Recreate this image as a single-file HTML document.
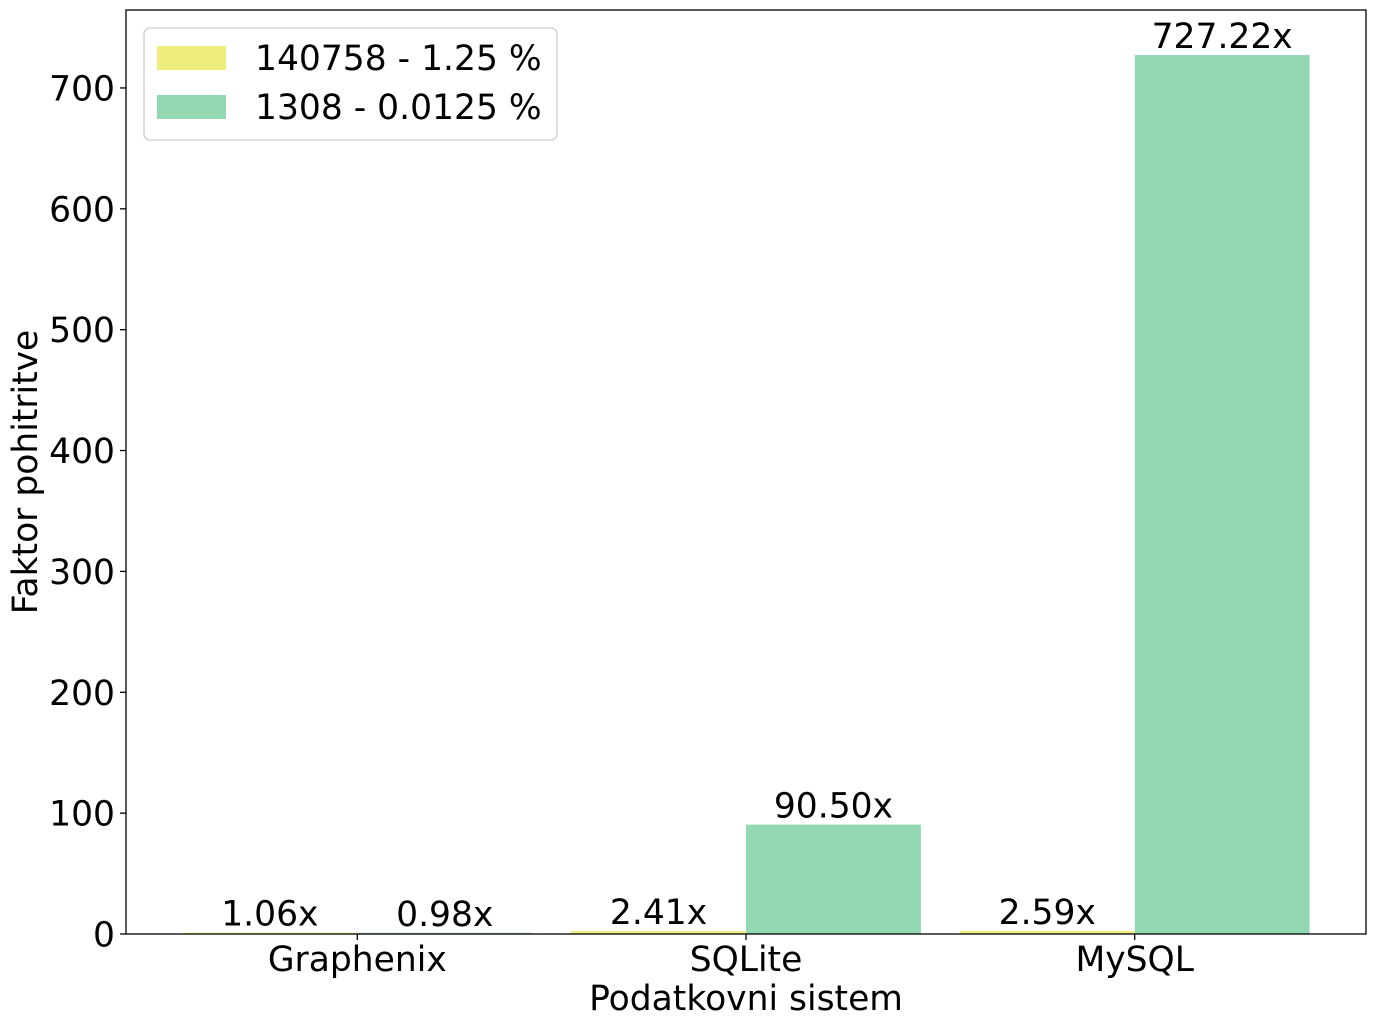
<!DOCTYPE html>
<html><head><meta charset="utf-8"><style>
body{margin:0;background:#fff}
svg{display:block;font-family:"DejaVu Sans","Liberation Sans",sans-serif}
</style></head><body>
<svg id="chart" width="1375" height="1027" viewBox="0 0 1375 1027" xmlns="http://www.w3.org/2000/svg">
<rect x="0" y="0" width="1375" height="1027" fill="#fff"/>
<g id="bars"></g>
<g id="axes"></g>
</svg>
<script>
const categories = ["Graphenix", "SQLite", "MySQL"];
const seriesNames = ["140758 - 1.25 %", "1308 - 0.0125 %"];
const series1 = [1.06, 2.41, 2.59];
const series2 = [0.98, 90.50, 727.22];
const labels1 = ["1.06x", "2.41x", "2.59x"];
const labels2 = ["0.98x", "90.50x", "727.22x"];
const yTicks = [0, 100, 200, 300, 400, 500, 600, 700];

const NS = "http://www.w3.org/2000/svg";
const L = 126, R = 1366, T = 10, B = 934;
const FS = 34.5;
const barW = 0.45;
const xmin = -barW - 0.05 * (categories.length - 1 + 2 * barW);
const xmax = categories.length - 1 + barW + 0.05 * (categories.length - 1 + 2 * barW);
const ymax = 764.5;
function xs(v){ return L + (v - xmin) / (xmax - xmin) * (R - L); }
function ys(v){ return B - v / ymax * (B - T); }
function mk(tag, attrs, parent, text){
  const e = document.createElementNS(NS, tag);
  for (const k in attrs) e.setAttribute(k, attrs[k]);
  if (text !== undefined) e.textContent = text;
  parent.appendChild(e);
  return e;
}
const bars = document.getElementById("bars");
const axes = document.getElementById("axes");
const colors = ["#eeed7e", "#94d7b3"];
[series1, series2].forEach((s, si) => {
  const lbls = si === 0 ? labels1 : labels2;
  s.forEach((v, i) => {
    const x0 = xs(i - barW + si * barW), x1 = xs(i + si * barW);
    const r = mk("rect", {x: x0, y: ys(v), width: x1 - x0, height: B - ys(v), fill: colors[si]}, bars);
    
    
    const t = mk("text", {x: (x0 + x1) / 2, y: ys(v) - 7, "font-size": FS, "text-anchor": "middle", fill: "#000"}, bars, lbls[i]);
    
    
  });
});
const fr = mk("rect", {x: L, y: T, width: R - L, height: B - T, fill: "none", stroke: "#000", "stroke-width": 1.3}, axes);


yTicks.forEach(v => {
  const y = ys(v);
  const tk = mk("line", {x1: L - 6, x2: L, y1: y, y2: y, stroke: "#000", "stroke-width": 1.3}, axes);
  
  
  const t = mk("text", {x: L - 11, y: y + 12.5, "font-size": FS, "text-anchor": "end"}, axes, String(v));
  
  
});
categories.forEach((c, i) => {
  const x = xs(i);
  const tk = mk("line", {x1: x, x2: x, y1: B, y2: B + 6, stroke: "#000", "stroke-width": 1.3}, axes);
  
  
  const t = mk("text", {x: x, y: 971, "font-size": FS, "text-anchor": "middle"}, axes, c);
  
  
});
const xt = mk("text", {x: (L + R) / 2, y: 1010, "font-size": FS, "text-anchor": "middle"}, axes, "Podatkovni sistem");


const yt = mk("text", {x: 0, y: 0, "font-size": FS, "text-anchor": "middle", transform: "translate(37,472) rotate(-90)"}, axes, "Faktor pohitritve");


const lg = mk("g", {}, axes);


mk("rect", {x: 144, y: 28, width: 413, height: 112, rx: 6, fill: "#fff", "fill-opacity": 0.8, stroke: "#ccc", "stroke-width": 1.3}, lg);
seriesNames.forEach((n, i) => {
  const y = 46 + i * 49;
  const p = mk("rect", {x: 157, y: y, width: 69, height: 24, fill: colors[i]}, lg);
  
  
  const t = mk("text", {x: 255, y: y + 24, "font-size": FS}, lg, n);
  
  
});
</script>
</body></html>
